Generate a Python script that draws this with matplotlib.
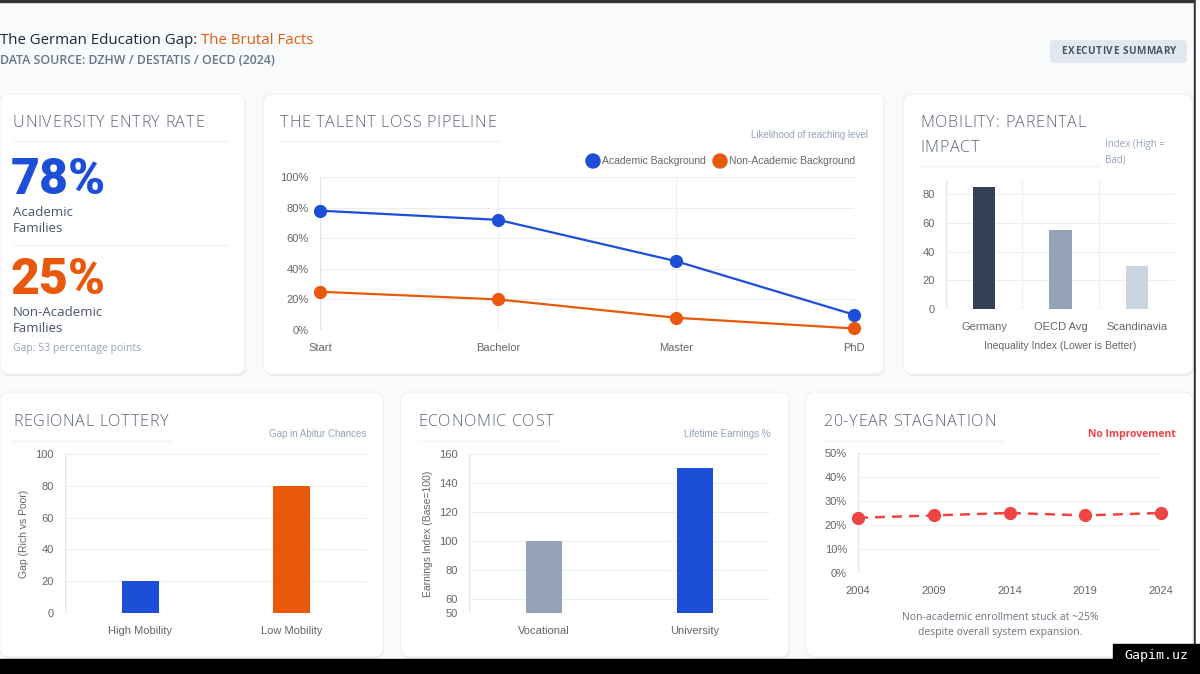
import numpy as np
import matplotlib.pyplot as plt
from matplotlib.patches import FancyBboxPatch, Rectangle, Circle

W, H = 1200, 674

# ---- data ----
entry_academic = 78
entry_non_academic = 25

pipeline_levels = ['Start', 'Bachelor', 'Master', 'PhD']
academic_rate = [78, 72, 45, 10]
non_academic_rate = [25, 20, 8, 1]

mobility_regions = ['Germany', 'OECD Avg', 'Scandinavia']
mobility_index = [85, 55, 30]

regional_groups = ['High Mobility', 'Low Mobility']
regional_gap = [20, 80]

earnings_groups = ['Vocational', 'University']
earnings_index = [100, 150]

years = ['2004', '2009', '2014', '2019', '2024']
non_academic_share = [23, 24, 25, 24, 25]

BLUE = '#1d4ed8'
ORANGE = '#ea580c'
RED = '#ef4444'
TICK = '#666666'
GRID = '#eceef2'
UI = 'Open Sans'
CHART = 'Liberation Sans'

fig = plt.figure(figsize=(12, 6.74), dpi=100)
fig.patch.set_facecolor('#f8fafc')
bg = fig.add_axes([0, 0, 1, 1])
bg.set_xlim(0, W)
bg.set_ylim(H, 0)
bg.axis('off')
renderer = fig.canvas.get_renderer()


def text_w(s, **kw):
    t = bg.text(0, 0, s, **kw)
    w = t.get_window_extent(renderer).width
    t.remove()
    return w


def spaced(x, y, s, spacing, ha='left', **kw):
    base = text_w('II', **kw)
    widths = [text_w('I' + ch + 'I', **kw) - base for ch in s]
    total = sum(widths) + spacing * (len(s) - 1)
    cx = x - total / 2 if ha == 'center' else x
    for ch, w in zip(s, widths):
        bg.text(cx, y, ch, va='center', ha='left', **kw)
        cx += w + spacing
    return cx


def card(x0, y0, x1, y1):
    bg.add_patch(FancyBboxPatch((x0 + 1, y0 + 2), x1 - x0, y1 - y0,
                                boxstyle='round,pad=0,rounding_size=9',
                                fc='#e8ecf1', ec='none'))
    bg.add_patch(FancyBboxPatch((x0, y0), x1 - x0, y1 - y0,
                                boxstyle='round,pad=0,rounding_size=9',
                                fc='white', ec='#eef1f5', lw=0.8))


TITLE_KW = dict(fontsize=11.6, family=UI, fontweight='light', color='#5b6577')


def card_title(x, y, s, line_to, line_y):
    spaced(x, y, s, 0.7, **TITLE_KW)
    bg.plot([x, line_to], [line_y, line_y], color='#f0f2f5', lw=1)


def px_axes(x0, y0, x1, y1):
    return fig.add_axes([x0 / W, 1 - y1 / H, (x1 - x0) / W, (y1 - y0) / H])


def style(ax, xgrid=False):
    ax.set_facecolor('none')
    for s in ax.spines.values():
        s.set_visible(False)
    ax.tick_params(length=0, labelsize=8, colors=TICK, pad=8)
    ax.tick_params(axis='x', pad=9.5)
    for lab in ax.get_xticklabels() + ax.get_yticklabels():
        lab.set_family(CHART)
    ax.grid(axis='y', color=GRID, lw=0.8)
    if xgrid:
        ax.grid(axis='x', color=GRID, lw=0.8)
    ax.axhline(ax.get_ylim()[0], color='#e2e5ea', lw=1, zorder=1)
    ax.axvline(ax.get_xlim()[0], color='#e2e5ea', lw=1, zorder=1)
    ax.set_axisbelow(True)


# ---- header ----
t1 = bg.text(0, 41, 'The German Education Gap: ', fontsize=10.8, family=UI,
             color='#1e293b', va='center', ha='left')
w1 = t1.get_window_extent(renderer).width
bg.text(w1, 41, 'The Brutal Facts', fontsize=10.8, family=UI, color=ORANGE,
        va='center', ha='left')
bg.text(0, 61, 'DATA SOURCE: DZHW / DESTATIS / OECD (2024)', fontsize=8.9, family=UI,
        fontweight='semibold', color='#64748b', va='center', ha='left')
bg.add_patch(FancyBboxPatch((1050, 40), 137, 23, boxstyle='round,pad=0,rounding_size=4',
                            fc='#e2e8f0', ec='none'))
spaced(1119, 51.5, 'EXECUTIVE SUMMARY', 0.5, ha='center', fontsize=7.2, family=UI,
       fontweight='bold', color='#475569')

# ---- cards ----
for box in [(0, 94, 245, 374), (263, 94, 884, 374), (903, 94, 1193, 374),
            (0, 392, 383, 657), (401, 392, 789, 657), (806, 392, 1193, 657)]:
    card(*box)

# card 1: KPI
card_title(13, 123, 'UNIVERSITY ENTRY RATE', 228, 141)
bg.text(11, 181, f'{entry_academic}%', fontsize=36, family='Roboto', fontweight='black',
        color=BLUE, va='center', ha='left')
bg.text(13, 212, 'Academic', fontsize=9.5, family=UI, color='#475569', va='center')
bg.text(13, 229, 'Families', fontsize=9.5, family=UI, color='#475569', va='center')
bg.plot([13, 228], [245, 245], color='#f0f2f5', lw=1)
bg.text(11, 280, f'{entry_non_academic}%', fontsize=36, family='Roboto', fontweight='black',
        color=ORANGE, va='center', ha='left')
bg.text(13, 312, 'Non-Academic', fontsize=9.5, family=UI, color='#475569', va='center')
bg.text(13, 328, 'Families', fontsize=9.5, family=UI, color='#475569', va='center')
bg.text(13, 349, f'Gap: {entry_academic - entry_non_academic} percentage points',
        fontsize=7.5, family=UI, color='#94a3b8', va='center')

# card 2: pipeline
card_title(280, 123, 'THE TALENT LOSS PIPELINE', 500, 141)
bg.text(868, 135, 'Likelihood of reaching level', fontsize=7, family=CHART,
        color='#94a3b8', va='center', ha='right')
for cx, col, lab in [(593, BLUE, 'Academic Background'), (720, ORANGE, 'Non-Academic Background')]:
    bg.add_patch(Circle((cx, 161), 7, color=col))
    bg.text(cx + 9, 161, lab, fontsize=7.5, family=CHART, color=TICK, va='center', ha='left')

ax = px_axes(320, 177, 854, 330)
x = np.arange(len(pipeline_levels))
ax.plot(x, academic_rate, color=BLUE, lw=1.6, marker='o', ms=8.5, clip_on=False, zorder=3)
ax.plot(x, non_academic_rate, color=ORANGE, lw=1.6, marker='o', ms=8.5, clip_on=False, zorder=3)
ax.set_xlim(0, len(pipeline_levels) - 1)
ax.set_ylim(0, 100)
ax.set_xticks(x, pipeline_levels)
ax.set_yticks(range(0, 101, 20), [f'{v}%' for v in range(0, 101, 20)])
style(ax, xgrid=True)

# card 3: mobility
spaced(920, 123, 'MOBILITY: PARENTAL', 0.7, **TITLE_KW)
spaced(920, 148, 'IMPACT', 0.7, **TITLE_KW)
bg.plot([920, 1100], [166, 166], color='#f0f2f5', lw=1)
bg.text(1105, 145, 'Index (High =', fontsize=7, family=UI, color='#94a3b8', va='center')
bg.text(1105, 160, 'Bad)', fontsize=7, family=UI, color='#94a3b8', va='center')

ax = px_axes(946, 180, 1175, 309)
x = np.arange(len(mobility_regions))
ax.bar(x, mobility_index, width=0.29, color=['#334155', '#94a3b8', '#cbd5e1'], zorder=2)
ax.set_xlim(-0.5, len(mobility_regions) - 0.5)
ax.set_ylim(0, 90)
ax.set_xticks(x, mobility_regions)
ax.set_yticks(range(0, 81, 20))
ax.set_xticks(np.arange(-0.5, len(mobility_regions)), minor=True)
style(ax)
ax.grid(axis='x', which='minor', color=GRID, lw=0.8)
ax.tick_params(which='minor', length=0)
ax.set_xlabel('Inequality Index (Lower is Better)', fontsize=7.5, family=CHART, color=TICK)
ax.xaxis.set_label_coords(0.5, -0.25)

# card 4: regional lottery
card_title(13, 422, 'REGIONAL LOTTERY', 172, 441)
bg.text(366, 434, 'Gap in Abitur Chances', fontsize=7, family=CHART, color='#94a3b8',
        va='center', ha='right')
ax = px_axes(65, 454, 367, 613)
x = np.arange(len(regional_groups))
ax.bar(x, regional_gap, width=0.245, color=[BLUE, ORANGE], zorder=2)
ax.set_xlim(-0.5, len(regional_groups) - 0.5)
ax.set_ylim(0, 100)
ax.set_xticks(x, regional_groups)
ax.set_yticks(range(0, 101, 20))
style(ax)
ax.set_ylabel('Gap (Rich vs Poor)', fontsize=7.5, family=CHART, color=TICK)
ax.yaxis.set_label_coords(-0.12, 0.5)

# card 5: economic cost
card_title(418, 422, 'ECONOMIC COST', 560, 441)
bg.text(771, 434, 'Lifetime Earnings %', fontsize=7, family=CHART, color='#94a3b8',
        va='center', ha='right')
ax = px_axes(469, 454, 770, 613)
x = np.arange(len(earnings_groups))
ax.bar(x, earnings_index, width=0.24, color=['#94a3b8', BLUE], zorder=2)
ax.set_xlim(-0.5, len(earnings_groups) - 0.5)
ax.set_ylim(50, 160)
ax.set_xticks(x, earnings_groups)
ax.set_yticks([50, 60, 80, 100, 120, 140, 160])
style(ax)
ax.set_ylabel('Earnings Index (Base=100)', fontsize=7.5, family=CHART, color=TICK)
ax.yaxis.set_label_coords(-0.12, 0.5)

# card 6: stagnation
card_title(823, 422, '20-YEAR STAGNATION', 1003, 441)
bg.text(1176, 434, 'No Improvement', fontsize=7.5, family=UI, fontweight='bold', color=RED,
        va='center', ha='right')
ax = px_axes(858, 453, 1161, 573)
x = np.arange(len(years))
ax.plot(x, non_academic_share, color=RED, lw=1.8, ls=(0, (4, 2.8)), marker='o', ms=8.5,
        clip_on=False, zorder=3)
ax.set_xlim(0, len(years) - 1)
ax.set_ylim(0, 50)
ax.set_xticks(x, years)
ax.set_yticks(range(0, 51, 10), [f'{v}%' for v in range(0, 51, 10)])
style(ax)
bg.text(1000, 618, 'Non-academic enrollment stuck at ~25%', fontsize=7.5, family=UI,
        color='#6b7280', va='center', ha='center')
bg.text(1000, 633, 'despite overall system expansion.', fontsize=7.5, family=UI,
        color='#6b7280', va='center', ha='center')

# ---- screenshot frame ----
bg.add_patch(Rectangle((0, 0), W, 2, color='#333333', zorder=5))
bg.add_patch(Rectangle((1194, 0), 2, 659, color='#333333', zorder=5))
bg.add_patch(Rectangle((1196, 0), 4, 659, color='white', zorder=5))
bg.add_patch(Rectangle((0, 659), W, 15, color='black', zorder=5))
bg.add_patch(Rectangle((1113, 644), 87, 25, color='black', zorder=6))
bg.text(1156, 656, 'Gapim.uz', fontsize=9.5, family='DejaVu Sans Mono', color='white',
        va='center', ha='center', zorder=7)

fig.savefig('out.png', dpi=100, facecolor=fig.get_facecolor())
